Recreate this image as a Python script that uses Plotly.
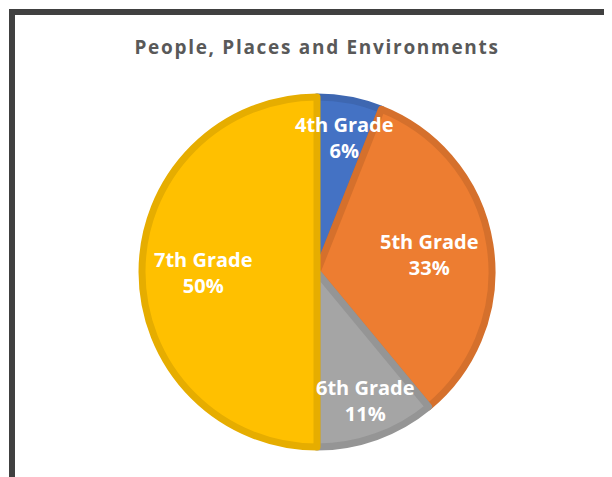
import math
import plotly.graph_objects as go

# ---- data ----
categories = ["4th Grade", "5th Grade", "6th Grade", "7th Grade"]
values = [6, 33, 11, 50]
title_text = "People, Places and Environments"

# ---- style ----
fill_colors = ["#4472C4", "#ED7D31", "#A5A5A5", "#FFC000"]
edge_colors = ["#3E67B1", "#D5702C", "#959595", "#E6AD00"]
label_radius = [0.78, 0.64, 0.78, 0.66]   # fraction of pie radius for each label

W, H = 612, 477
OFF = 8  # page body margin
cx, cy, R = 317 - OFF, 272 - OFF, 175
edge_w = 7

fig = go.Figure()
fig.add_trace(go.Pie(
    labels=categories,
    values=values,
    sort=False,
    direction="clockwise",
    rotation=0,
    marker=dict(colors=fill_colors, line=dict(color=edge_colors, width=edge_w)),
    textinfo="none",
    hoverinfo="skip",
    showlegend=False,
    domain=dict(x=[(cx - R) / W, (cx + R) / W], y=[1 - (cy + R) / H, 1 - (cy - R) / H]),
))

total = sum(values)
cum = 0
for cat, v, f in zip(categories, values, label_radius):
    mid = (cum + v / 2) / total * 2 * math.pi
    cum += v
    px = cx + 2 + f * R * math.sin(mid)
    py = cy - f * R * math.cos(mid)
    pct = round(v / total * 100)
    fig.add_annotation(
        x=px / W, y=1 - py / H, xref="paper", yref="paper",
        text=f"<b>{cat}</b><br><b>{pct}%</b>",
        showarrow=False, xanchor="center", yanchor="middle",
        font=dict(family="Open Sans", size=20, color="white"),
    )

# chart frame (partially visible at left/top)
fig.add_shape(type="rect", xref="paper", yref="paper",
              x0=(12 - OFF) / W, y0=-0.2, x1=1.2, y1=1 - (12 - OFF) / H,
              line=dict(color="#404040", width=6), fillcolor="rgba(0,0,0,0)")

fig.update_layout(
    width=W, height=H,
    margin=dict(l=0, r=0, t=0, b=0),
    paper_bgcolor="white", plot_bgcolor="white",
    title=dict(text=f"<b>{title_text}</b>", x=(317 - OFF) / W, xanchor="center",
               y=1 - (47 - OFF) / H, yanchor="middle",
               font=dict(family="Open Sans", size=19, color="#595959")),
)

post = """
var t = document.querySelectorAll('.gtitle');
t.forEach(function(e){ e.setAttribute('letter-spacing', '1.7px'); });
"""
fig.write_html("out.html", post_script=post)
